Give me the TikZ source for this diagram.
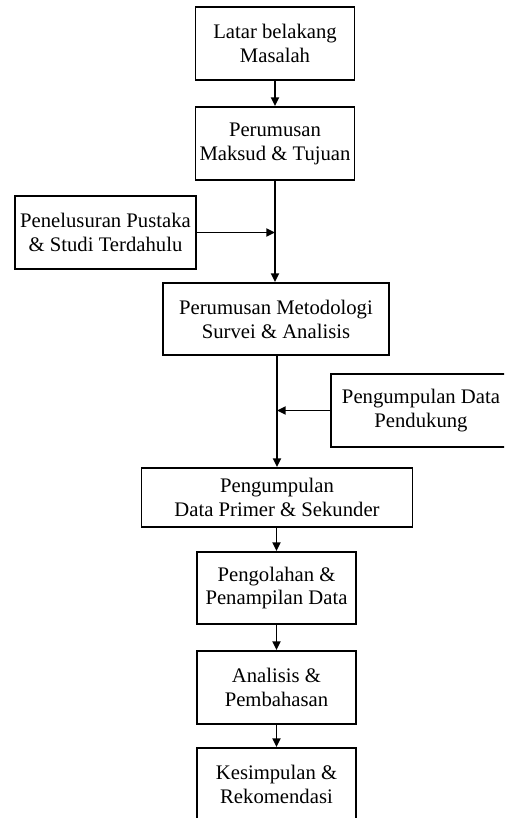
\documentclass[tikz,border=0pt]{standalone}
\usepackage{fontspec}
\setmainfont{Liberation Serif}
\usetikzlibrary{arrows.meta}

\tikzset{
  kotak/.style={draw, line width=1.1pt, align=center, inner sep=0pt,
    font=\fontsize{12}{13.9}\selectfont},
  panah/.style={line width=1.1pt, -{Triangle[length=5pt, width=4.6pt]}},
}

\begin{document}
\begin{tikzpicture}[x=0.58pt, y=-0.58pt]
                \useasboundingbox (0,0) rectangle (504,818);
                \clip (0,0) rectangle (504,818);

                \node[kotak, minimum width=159*0.58pt, minimum height=73*0.58pt] (latar) at (275,43.5) {Latar belakang\\Masalah};
                \node[kotak, minimum width=159*0.58pt, minimum height=73*0.58pt] (maksud) at (275,143.5) {Perumusan\\Maksud \& Tujuan};
                \node[kotak, minimum width=181*0.58pt, minimum height=73*0.58pt] (pustaka) at (105.5,232.5) {Penelusuran Pustaka\\\& Studi Terdahulu};
                \node[kotak, minimum width=226*0.58pt, minimum height=72*0.58pt] (metode) at (276,319) {Perumusan Metodologi\\Survei \& Analisis};
                \node[kotak, minimum width=180*0.58pt, minimum height=73*0.58pt] (pendukung) at (421,410.5) {Pengumpulan Data\\Pendukung};
                \node[kotak, minimum width=271*0.58pt, minimum height=59*0.58pt] (primer) at (277,497.5) {Pengumpulan\\Data Primer \& Sekunder};
                \node[kotak, minimum width=159*0.58pt, minimum height=72*0.58pt] (olah) at (276.5,588) {Pengolahan \&\\Penampilan Data};
                \node[kotak, minimum width=159*0.58pt, minimum height=73*0.58pt] (analisis) at (276.5,687.5) {Analisis \&\\Pembahasan};
                \node[kotak, minimum width=159*0.58pt, minimum height=73*0.58pt] (simpul) at (276.5,784.5) {Kesimpulan \&\\Rekomendasi};

                \draw[panah] (latar) -- (maksud);
                \draw[panah] (maksud) -- (maksud.south |- metode.north);
                \draw[panah] (pustaka.east) -- (maksud.south |- pustaka.east);
                \draw[panah] (metode.south -| primer.north) -- (primer);
                \draw[panah] (pendukung.west) -- (primer.north |- pendukung.west);
                \draw[panah] (primer.south -| olah.north) -- (olah);
                \draw[panah] (olah) -- (analisis);
                \draw[panah] (analisis) -- (simpul);
            \end{tikzpicture}
\end{document}
